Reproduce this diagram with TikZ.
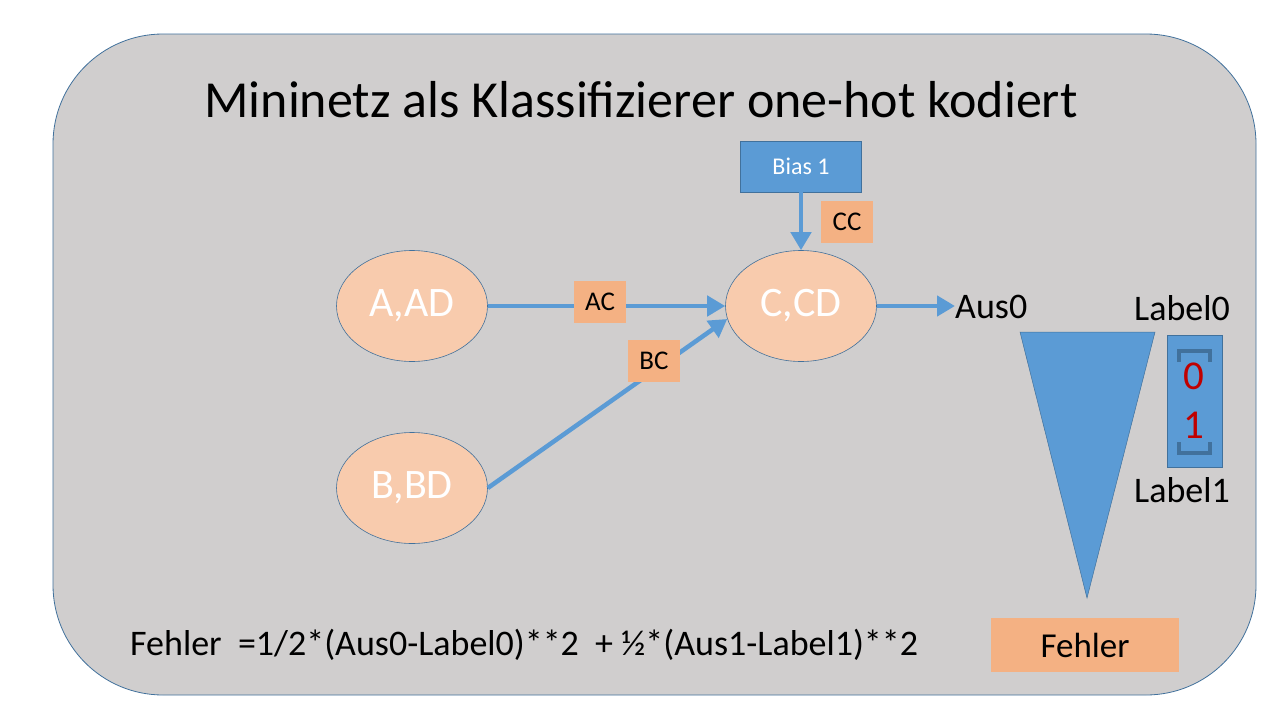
\documentclass[tikz,border=0pt]{standalone}
\usepackage{fontspec}
\setmainfont{Carlito}
\usetikzlibrary{shapes.geometric,arrows.meta}
\definecolor{bgray}{HTML}{D0CECE}
\definecolor{bline}{HTML}{41719C}
\definecolor{bfill}{HTML}{5B9BD5}
\definecolor{ofill}{HTML}{F4B183}
\definecolor{elfill}{HTML}{F8CBAD}
\definecolor{redn}{HTML}{C00000}
\tikzset{
  neuron/.style={ellipse,draw=bline,line width=0.6pt,fill=elfill,minimum width=151pt,minimum height=111pt,inner sep=0pt,text=white,text height=20pt,text depth=0pt,font=\fontsize{42}{48}\selectfont},
  wbox/.style={fill=ofill,minimum width=52pt,minimum height=42pt,inner sep=0pt,font=\fontsize{27}{32}\selectfont},
  conn/.style={draw=bfill,line width=4.5pt,-{Triangle[length=18pt,width=20pt]}},
  lbl/.style={inner sep=0pt,font=\fontsize{36}{42}\selectfont},
}
\begin{document}
\begin{tikzpicture}[x=1pt,y=-1pt]
\useasboundingbox (0,0) rectangle (1280,720);
\fill[white] (0,0) rectangle (1280,720);
\draw[draw=bline,fill=bgray,line width=0.8pt,rounded corners=110pt] (53,34) rectangle (1256,695);
\node[font=\fontsize{52}{60}\selectfont,inner sep=0pt] (title) at (641,100) {Mininetz als Klassifizierer one-hot kodiert};
\node[neuron] (A) at (412,306) {A,AD};
\node[neuron] (B) at (412,488) {B,BD};
\node[neuron] (C) at (801,306) {C,CD};
\node[draw=bline,line width=0.6pt,fill=bfill,minimum width=121pt,minimum height=51pt,inner sep=0pt,text=white,font=\fontsize{24}{28}\selectfont] (bias) at (801,166.5) {Bias 1};
\node[lbl,anchor=west] (aus) at (955,307) {Aus0};
\draw[conn] (A.east) -- (C.west);
\draw[conn] (B.east) -- (C.190);
\draw[conn] (bias.south) -- (C.north);
\draw[conn] (C.east) -- (C.east -| aus.west);
\node[wbox] (AC) at (600,302) {AC};
\node[wbox] (BC) at (654,361) {BC};
\node[wbox] (CC) at (847,222) {CC};
% error triangle
\coordinate (t1) at (1020,332);
\coordinate (t2) at (1155,332);
\coordinate (t3) at (1087,598);
\draw[draw=bline,line width=0.5pt,fill=bfill] (t1) -- (t2) -- (t3) -- cycle;
% label vector
\node[draw=bline,line width=0.6pt,fill=bfill,minimum width=55pt,minimum height=132pt,inner sep=0pt] (vec) at (1194.5,401) {};
\draw[bline,line width=3.5pt] (1179,362) -- (1179,351) -- (1210,351) -- (1210,362);
\draw[bline,line width=3.5pt] (1179,442) -- (1179,453) -- (1210,453) -- (1210,442);
\node[inner sep=0pt,text=redn,font=\fontsize{41}{46}\selectfont] (v0) at (1194,376) {0};
\node[inner sep=0pt,text=redn,font=\fontsize{41}{46}\selectfont] (v1) at (1194,425) {1};
\node[lbl] (l0) at (1182,308) {Label0};
\node[lbl] (l1) at (1182,490) {Label1};
% formula
\node[lbl,anchor=west] (formula) at (130,645) {Fehler~~=1/2*(Aus0-Label0)**2~~+ ½*(Aus1-Label1)**2};
\node[fill=ofill,minimum width=188pt,minimum height=54pt,inner sep=0pt,font=\fontsize{35}{40}\selectfont] (fehler) at (1085,645) {Fehler};
\end{tikzpicture}
\end{document}
